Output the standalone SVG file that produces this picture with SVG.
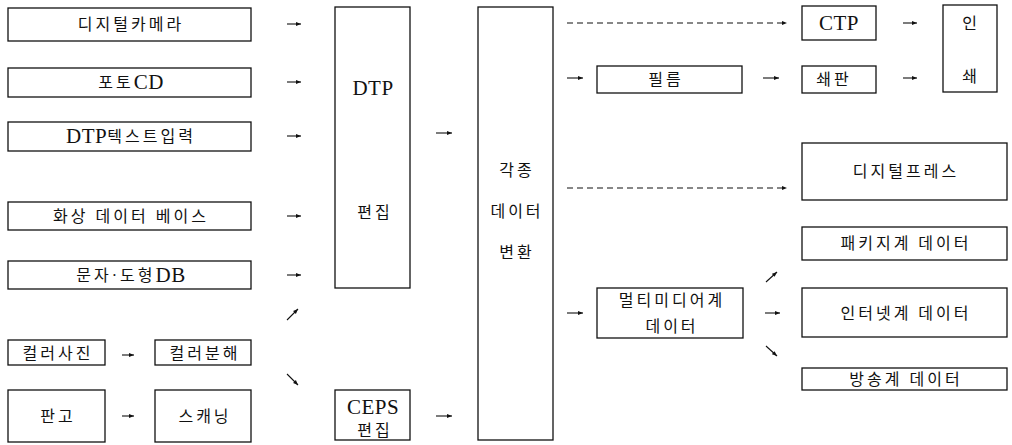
<svg xmlns="http://www.w3.org/2000/svg" width="1012" height="445" viewBox="0 0 1012 445">
<defs>
<marker id="ah" viewBox="0 0 10 10" refX="10" refY="5" markerWidth="6" markerHeight="5" markerUnits="userSpaceOnUse" orient="auto">
<path d="M0,1 L10,5 L0,9 Z" fill="#111"/>
</marker>
</defs>
<style>
rect{fill:#fff;stroke:#111;stroke-width:1.3}
text{font-family:"Liberation Serif","Noto Sans CJK KR",serif;font-size:16px;fill:#111;text-anchor:middle;dominant-baseline:central;letter-spacing:3px}
.l{font-size:21px;letter-spacing:0.5px}
.c line{stroke:#111;stroke-width:1.1;marker-end:url(#ah)}
.c line.d{stroke-dasharray:6,4}
</style>
<rect x="0" y="0" width="1012" height="445" style="stroke:none"/>
<g id="n1"><rect x="8" y="8" width="243" height="33"/><text x="131" y="24">디지털카메라</text></g>
<g id="n2"><rect x="8" y="68" width="243" height="29"/><text x="131" y="82">포토<tspan class="l">CD</tspan></text></g>
<g id="n3"><rect x="8" y="122" width="243" height="29"/><text x="131" y="136"><tspan class="l">DTP</tspan>텍스트입력</text></g>
<g id="n4"><rect x="8" y="202" width="243" height="28"/><text x="131" y="216" xml:space="preserve">화상 데이터 베이스</text></g>
<g id="n5"><rect x="8" y="261" width="243" height="28"/><text x="131" y="275">문자·도형<tspan class="l">DB</tspan></text></g>
<g id="n6"><rect x="8" y="340" width="97" height="25"/><text x="58" y="353">컬러사진</text></g>
<g id="n7"><rect x="155" y="340" width="96" height="25"/><text x="205" y="353">컬러분해</text></g>
<g id="n8"><rect x="8" y="390" width="97" height="52"/><text x="58" y="416">판고</text></g>
<g id="n9"><rect x="155" y="390" width="96" height="52"/><text x="205" y="416">스캐닝</text></g>
<g id="n10"><rect x="335" y="7" width="75" height="281"/><text x="373" y="88" class="l">DTP</text><text x="375" y="212">편집</text></g>
<g id="n11"><rect x="335" y="390" width="75" height="50"/><text x="373" y="407" class="l">CEPS</text><text x="375" y="430">편집</text></g>
<g id="n12"><rect x="478" y="7" width="75" height="433"/><text x="517" y="170">각종</text><text x="517" y="211">데이터</text><text x="517" y="252">변환</text></g>
<g id="n13"><rect x="802" y="6" width="74" height="34"/><text x="839" y="23" class="l">CTP</text></g>
<g id="n14"><rect x="943" y="5" width="54" height="87"/><text x="971" y="23">인</text><text x="971" y="76">쇄</text></g>
<g id="n15"><rect x="597" y="66" width="145" height="27"/><text x="666" y="79">필름</text></g>
<g id="n16"><rect x="802" y="66" width="74" height="27"/><text x="834" y="79">쇄판</text></g>
<g id="n17"><rect x="802" y="143" width="205" height="57"/><text x="906" y="171">디지털프레스</text></g>
<g id="n18"><rect x="802" y="227" width="205" height="33"/><text x="906" y="243" xml:space="preserve">패키지계 데이터</text></g>
<g id="n19"><rect x="597" y="288" width="146" height="50"/><text x="672" y="300">멀티미디어계</text><text x="672" y="326">데이터</text></g>
<g id="n20"><rect x="802" y="288" width="205" height="49"/><text x="906" y="313" xml:space="preserve">인터넷계 데이터</text></g>
<g id="n21"><rect x="802" y="368" width="205" height="22"/><text x="906" y="379" xml:space="preserve">방송계 데이터</text></g>
<g class="c" id="connectors">
<line x1="287" y1="24" x2="301" y2="24"/>
<line x1="287" y1="82" x2="301" y2="82"/>
<line x1="287" y1="136" x2="301" y2="136"/>
<line x1="287" y1="216" x2="301" y2="216"/>
<line x1="287" y1="275" x2="301" y2="275"/>
<line x1="287" y1="320" x2="298" y2="309"/>
<line x1="287" y1="374" x2="298" y2="385"/>
<line x1="122" y1="355" x2="134" y2="355"/>
<line x1="122" y1="416" x2="134" y2="416"/>
<line x1="436" y1="133" x2="452" y2="133"/>
<line x1="436" y1="416" x2="452" y2="416"/>
<line class="d" x1="567" y1="23" x2="787" y2="23"/>
<line x1="567" y1="78" x2="583" y2="78"/>
<line x1="763" y1="78" x2="779" y2="78"/>
<line x1="903" y1="23" x2="917" y2="23"/>
<line x1="903" y1="78" x2="917" y2="78"/>
<line class="d" x1="567" y1="188" x2="787" y2="188"/>
<line x1="567" y1="313" x2="583" y2="313"/>
<line x1="765" y1="313" x2="780" y2="313"/>
<line x1="766" y1="282" x2="777" y2="272"/>
<line x1="766" y1="346" x2="777" y2="356"/>
</g>
</svg>
